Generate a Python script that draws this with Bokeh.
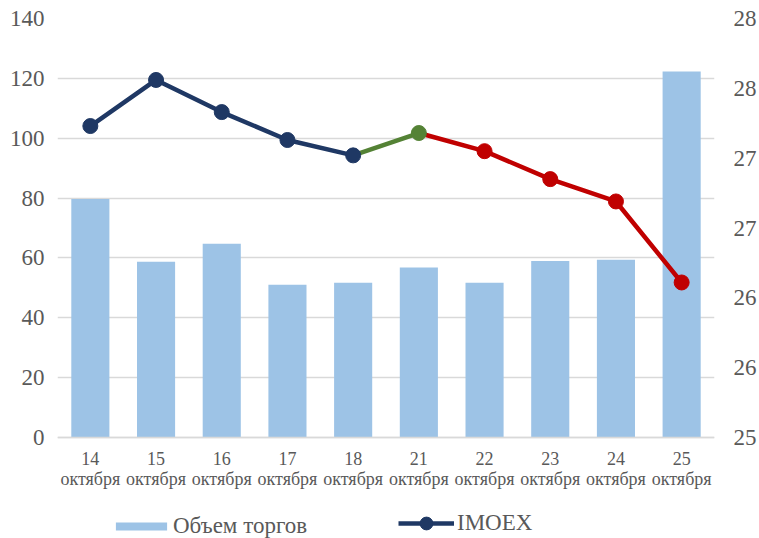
from bokeh.plotting import figure
from bokeh.models import Range1d, LinearAxis, FixedTicker, Legend, LegendItem
from bokeh.embed import file_html
from bokeh.resources import INLINE

days = ["14", "15", "16", "17", "18", "21", "22", "23", "24", "25"]
month = "октября"
volume = [79.7, 58.7, 64.7, 51.0, 51.7, 56.8, 51.7, 59.0, 59.4, 122.3]
imoex = [2773, 2806, 2783, 2763, 2752, 2768, 2755, 2735, 2719, 2661]
vol_ticks = [0, 20, 40, 60, 80, 100, 120, 140]
imoex_ticks = [2550, 2600, 2650, 2700, 2750, 2800, 2850]
imoex_tick_labels = ["25", "26", "26", "27", "27", "28", "28"]
series_names = ["Объем торгов", "IMOEX"]

FONT = "Liberation Serif"
TXT = "#595959"
NAVY = "#1F3864"
GREEN = "#548235"
RED = "#C00000"
BAR = "#9DC3E6"

W, H = 759, 538
TOP, AXIS_Y, LEFT, RIGHT = 18, 437, 57, 45
below = H - AXIS_Y                      # room under the value axis zero (px)
span_px = AXIS_Y - TOP                  # px between lowest and highest tick

vmin, vmax = vol_ticks[0], vol_ticks[-1]
imin, imax = imoex_ticks[0], imoex_ticks[-1]
v_pad = (vmax - vmin) * below / span_px
i_pad = (imax - imin) * below / span_px

x = list(range(len(days)))

p = figure(width=W, height=H, output_backend="svg", toolbar_location=None,
           x_range=Range1d(-0.5, len(days) - 0.5), y_range=Range1d(vmin - v_pad, vmax),
           min_border_left=LEFT, min_border_right=RIGHT, min_border_top=TOP, min_border_bottom=0)
p.outline_line_color = None
p.extra_y_ranges = {"imoex": Range1d(imin - i_pad, imax)}

bars = p.vbar(x=x, top=volume, width=0.58, fill_color=BAR, line_color=None)

l1 = p.line(x[0:5], imoex[0:5], line_color=NAVY, line_width=4.5, y_range_name="imoex")
p.line(x[4:6], imoex[4:6], line_color=GREEN, line_width=4.5, y_range_name="imoex")
p.line(x[5:10], imoex[5:10], line_color=RED, line_width=4.5, y_range_name="imoex")
m1 = p.scatter(x[0:5], imoex[0:5], size=15, fill_color=NAVY, line_color=NAVY, y_range_name="imoex")
p.scatter(x[5:6], imoex[5:6], size=15, fill_color=GREEN, line_color=GREEN, y_range_name="imoex")
p.scatter(x[6:10], imoex[6:10], size=15, fill_color=RED, line_color=RED, y_range_name="imoex")

# left axis
ya = p.yaxis[0]
ya.ticker = FixedTicker(ticks=vol_ticks)
ya.axis_line_color = None
ya.major_tick_line_color = None
ya.minor_tick_line_color = None
ya.major_label_text_font = FONT
ya.major_label_text_font_size = "23px"
ya.major_label_text_color = TXT
ya.major_label_standoff = 7

p.ygrid.ticker = FixedTicker(ticks=vol_ticks)
p.ygrid.grid_line_color = "#D9D9D9"
p.ygrid.grid_line_width = 1.5
p.xgrid.grid_line_color = None

# x axis, pinned at zero of the volume scale
xa = p.xaxis[0]
xa.fixed_location = vmin
xa.ticker = FixedTicker(ticks=x)
xa.major_label_overrides = {i: f"{d}\n{month}" for i, d in zip(x, days)}
xa.axis_line_color = "#D9D9D9"
xa.axis_line_width = 1.5
xa.major_tick_line_color = None
xa.minor_tick_line_color = None
xa.major_label_text_font = FONT
xa.major_label_text_font_size = "18px"
xa.major_label_text_line_height = 1.04
xa.major_label_text_color = TXT
xa.major_label_standoff = 5

# right axis
ra = LinearAxis(y_range_name="imoex")
ra.ticker = FixedTicker(ticks=imoex_ticks)
ra.major_label_overrides = {t: s for t, s in zip(imoex_ticks, imoex_tick_labels)}
ra.axis_line_color = None
ra.major_tick_line_color = None
ra.minor_tick_line_color = None
ra.major_label_text_font = FONT
ra.major_label_text_font_size = "23px"
ra.major_label_text_color = TXT
ra.major_label_standoff = 13
p.add_layout(ra, "right")

common = dict(orientation="horizontal", padding=0, margin=0, border_line_color=None,
              background_fill_alpha=0, label_text_font=FONT, label_text_font_size="23px",
              label_text_color=TXT, label_height=26)
leg_bar = Legend(items=[LegendItem(label=series_names[0], renderers=[bars])],
                 location=(52, -1), glyph_width=64, glyph_height=10, label_standoff=0, **common)
leg_line = Legend(items=[LegendItem(label=series_names[1], renderers=[l1, m1])],
                  location=(341, -1), glyph_width=56, glyph_height=32, label_standoff=3, **common)
p.add_layout(leg_bar, "center")
p.add_layout(leg_line, "center")

open("out.html", "w").write(file_html(p, INLINE))
